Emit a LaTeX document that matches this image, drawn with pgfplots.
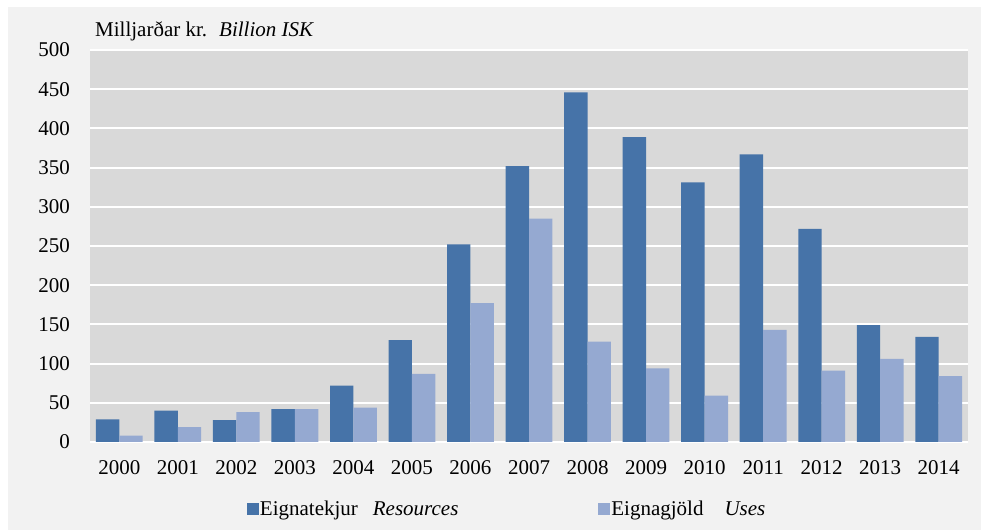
\documentclass[border=0pt]{standalone}
\usepackage{pgfplots}
\pgfplotsset{compat=1.18}
\usepackage{fontspec}
\setmainfont{Liberation Serif}
\definecolor{panel}{HTML}{F2F2F2}
\definecolor{plotbg}{HTML}{D9D9D9}
\definecolor{darkb}{HTML}{4673A8}
\definecolor{lightb}{HTML}{95A9D1}
\newcommand\chartfont{\fontsize{21bp}{25bp}\selectfont\rmfamily}
\begin{document}
\begin{tikzpicture}
\fill[white] (0,0) rectangle (981bp,531bp);
\fill[panel] (8bp,1bp) rectangle (981bp,524bp);
\begin{axis}[
  name=ax,
  at={(90bp,89bp)}, anchor=south west,
  scale only axis, width=878bp, height=392bp,
  ybar=0pt, bar width=23.4bp,
  xmin=-0.5, xmax=14.5, ymin=0, ymax=500,
  ytick={0,50,...,500},
  xtick={0,...,14},
  xticklabels={2000,2001,2002,2003,2004,2005,2006,2007,2008,2009,2010,2011,2012,2013,2014},
  axis background/.style={fill=plotbg},
  axis line style={draw=none},
  major tick length=0pt,
  ymajorgrids, grid style={white, line width=2bp},
  /pgf/number format/assume math mode=true,
  font=\chartfont,
  tick label style={font=\chartfont, inner sep=0pt},
  xticklabel style={anchor=north, yshift=-18bp},
  yticklabel style={anchor=east, xshift=-20bp},
  legend columns=2,
  legend style={at={(axis description cs:0.1785,-0.1709)}, anchor=west,
    draw=none, fill=none, inner sep=0pt,
    font=\chartfont,
    nodes={inner sep=1bp},
    /tikz/every even column/.append style={column sep=139bp}},
  legend image code/.code={\fill[#1] (0bp,-6bp) rectangle (12bp,6bp);},
]
\addplot[fill=darkb, draw=none] coordinates {
(0,29) (1,40) (2,28) (3,42) (4,72) (5,130) (6,252) (7,352) (8,446) (9,389) (10,331) (11,367) (12,272) (13,149) (14,134)};
\addlegendentry{Eignatekjur\hspace{15bp}\textit{Resources}}
\addplot[fill=lightb, draw=none] coordinates {
(0,8) (1,19) (2,38) (3,42) (4,44) (5,87) (6,177) (7,285) (8,128) (9,94) (10,59) (11,143) (12,91) (13,106) (14,84)};
\addlegendentry{Eignagjöld\hspace{21bp}\textit{Uses}}
\end{axis}
\node[anchor=base west, inner sep=0pt, font=\chartfont] at ([xshift=5bp, yshift=13.3bp]ax.north west) {Milljarðar kr.\hspace{12bp}\textit{Billion ISK}};
\pgfresetboundingbox
\useasboundingbox (0,0) rectangle (981bp,531bp);
\end{tikzpicture}
\end{document}
